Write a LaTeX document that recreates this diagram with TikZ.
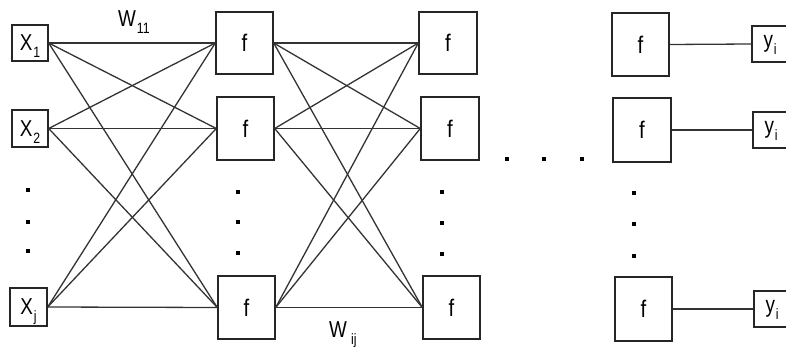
\documentclass[tikz,border=0pt]{standalone}
\usepackage{fontspec}
\setmainfont{Liberation Sans}
\newcommand\lbl[2]{\scalebox{0.82}[1]{\fontsize{23}{23}\selectfont #1\kern1pt\raisebox{-7pt}[0pt][0pt]{\fontsize{15}{15}\selectfont #2}}}
\newcommand\fl{\scalebox{0.85}[1]{\fontsize{24}{24}\selectfont f}}
\tikzset{
  box/.style={draw=black!85, line width=1.4pt, inner sep=0pt, fill=white},
  inbox/.style={box, minimum width=36pt, minimum height=36pt},
  fbox/.style={box, minimum width=57pt, minimum height=62pt},
  wire/.style={draw=black!80, line width=1.3pt},
  dotmark/.style={rectangle, fill=black, inner sep=0pt, minimum size=3.2pt}
}
\begin{document}
\begin{tikzpicture}[x=1pt, y=-1pt]
\useasboundingbox (0,0) rectangle (786,347);
\clip (0,0) rectangle (786,347);
% input boxes
\node[inbox] (x1) at (30,43) {\lbl{X}{1}};
\node[inbox, minimum height=37pt] (x2) at (30,128.5) {\lbl{X}{2}};
\node[inbox, minimum width=37pt, minimum height=38pt] (xj) at (28.5,307) {\lbl{X}{j}};
% layer 1
\node[fbox] (a1) at (244.5,43) {\fl};
\node[fbox, minimum height=63pt] (a2) at (245.5,128.5) {\fl};
\node[fbox, minimum height=63pt] (a3) at (246.5,307.5) {\fl};
% layer 2
\node[fbox, minimum width=58pt] (b1) at (448,43) {\fl};
\node[fbox, minimum width=58pt, minimum height=63pt] (b2) at (450,128.5) {\fl};
\node[fbox, minimum height=63pt] (b3) at (451.5,307.5) {\fl};
% layer 3
\node[fbox, minimum height=63pt] (c1) at (640.5,44.5) {\fl};
\node[fbox, minimum width=58pt, minimum height=64pt] (c2) at (642,130) {\fl};
\node[fbox, minimum height=64pt] (c3) at (643.5,309) {\fl};
% outputs
\node[inbox] (y1) at (770,44) {\lbl{y}{i}};
\node[inbox] (y2) at (771,130) {\lbl{y}{i}};
\node[inbox] (y3) at (772,309) {\lbl{y}{i}};
% connections layer 0 -> 1
\foreach \s in {x1,x2,xj}{
  \foreach \t in {a1,a2,a3}{
    \draw[wire] (\s.east) -- (\t.west);
  }
}
% layer 1 -> 2
\foreach \s in {a1,a2,a3}{
  \foreach \t in {b1,b2,b3}{
    \draw[wire] (\s.east) -- (\t.west);
  }
}
% layer 3 -> outputs
\draw[wire] (c1.east) -- (y1.west);
\draw[wire] (c2.east) -- (y2.west);
\draw[wire] (c3.east) -- (y3.west);
% weight labels
\node[anchor=base west, inner sep=0pt] (w11) at (118,27) {\lbl{W}{11}};
\node[anchor=base west, inner sep=0pt] (wij) at (329,337) {\lbl{W\kern4pt}{ij}};
% vertical dots
\foreach \xx/\ya/\yb/\yc/\n in {28/190/222/251/p, 238/192/222/253/q, 442/192/223/254/r, 634/193/224/256/s}{
  \node[dotmark] (\n1) at (\xx,\ya) {};
  \node[dotmark] (\n2) at (\xx,\yb) {};
  \node[dotmark] (\n3) at (\xx,\yc) {};
}
% horizontal dots
\node[dotmark] (h1) at (507,159) {};
\node[dotmark] (h2) at (544,159) {};
\node[dotmark] (h3) at (582,159) {};
\end{tikzpicture}
\end{document}
